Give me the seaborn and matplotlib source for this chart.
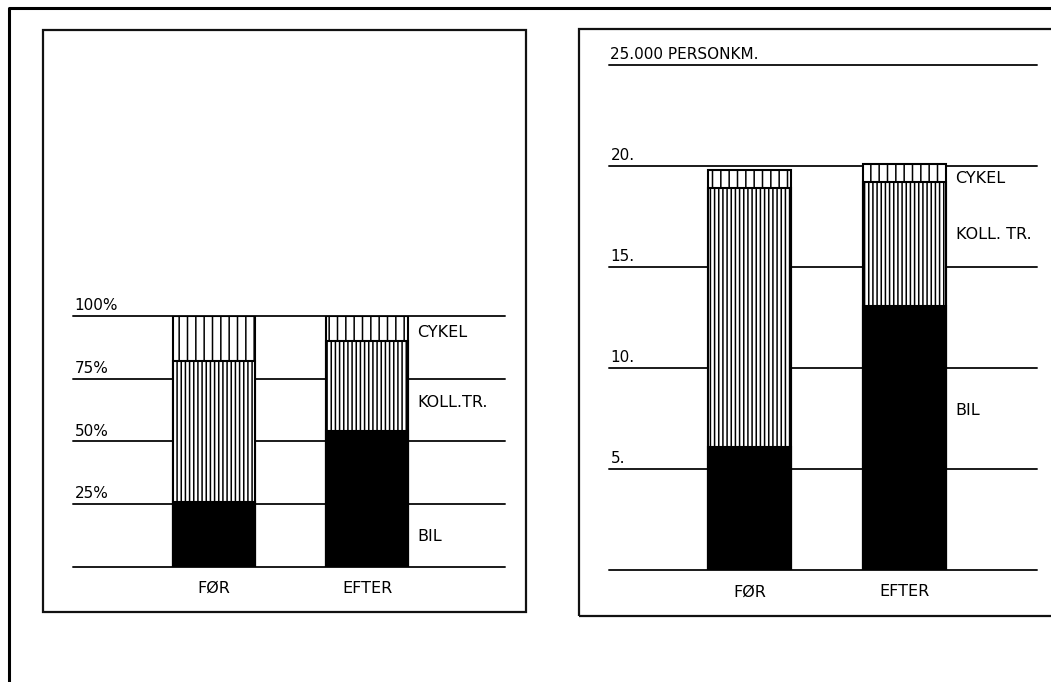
import matplotlib
matplotlib.use('Agg')
import matplotlib.pyplot as plt
import pandas as pd
import seaborn as sns
from matplotlib.lines import Line2D
from matplotlib.patches import Rectangle

# data
categories = ["FØR", "EFTER"]

pct_bil = [26, 54]
pct_koll = [56, 36]
pct_cykel = [18, 10]
pct_ticks = [0, 25, 50, 75, 100]
pct_ticklabels = ["", "25%", "50%", "75%", "100%"]
pct_modes = ["BIL", "KOLL.TR.", "CYKEL"]

km_bil = [6.1, 13.1]
km_koll = [12.8, 6.1]
km_cykel = [0.9, 0.9]
km_ticks = [0, 5, 10, 15, 20, 25]
km_ticklabels = ["", "5.", "10.", "15.", "20.", "25.000 PERSONKM."]
km_modes = ["BIL", "KOLL. TR.", "CYKEL"]

sns.set_style("white")
plt.rcParams['font.family'] = ['DejaVu Sans']
plt.rcParams['text.color'] = 'black'
plt.rcParams['xtick.color'] = 'black'
plt.rcParams['hatch.linewidth'] = 1.1

W, H = 1051, 682
fig = plt.figure(figsize=(W / 100, H / 100), dpi=100)


def px_rect(x0, y_top, x1, y_bot):
    # pixel box -> figure fraction rect
    return [x0 / W, (H - y_bot) / H, (x1 - x0) / W, (y_bot - y_top) / H]


def draw_panel(ax, bil, koll, cykel, ticks, ticklabels, modes, ymax, xlim, mode_y, mode_x):
    df = pd.DataFrame({"cat": categories, "bil": bil, "koll": koll, "cykel": cykel})
    df["lvl2"] = df["bil"] + df["koll"]
    df["lvl3"] = df["lvl2"] + df["cykel"]

    for t in ticks:
        ax.axhline(t, color="#1a1a1a", lw=1.4, zorder=0, clip_on=False)

    # stacked bars by overlaying cumulative totals
    sns.barplot(data=df, x="cat", y="lvl3", order=categories, color="white", saturation=1,
                edgecolor="black", linewidth=1.5, width=0.536, hatch="||", errorbar=None,
                ax=ax, zorder=2)
    sns.barplot(data=df, x="cat", y="lvl2", order=categories, color="white", saturation=1,
                edgecolor="black", linewidth=1.5, width=0.536, hatch="||||", errorbar=None,
                ax=ax, zorder=3)
    sns.barplot(data=df, x="cat", y="bil", order=categories, color="black", saturation=1,
                edgecolor="black", linewidth=1.5, width=0.536, errorbar=None,
                ax=ax, zorder=4)

    ax.set_ylim(0, ymax)
    ax.set_xlim(*xlim)
    for s in ax.spines.values():
        s.set_visible(False)
    ax.set_yticks([])
    ax.set_xlabel("")
    ax.set_ylabel("")
    ax.tick_params(axis="x", length=0, pad=10, labelsize=11.5)

    for t, lab in zip(ticks, ticklabels):
        if lab:
            ax.annotate(lab, xy=(xlim[0], t), xytext=(1, 2), textcoords="offset points",
                        ha="left", va="bottom", fontsize=11, annotation_clip=False)

    for m, y in zip(modes, mode_y):
        ax.text(mode_x, y, m, ha="left", va="center", fontsize=11.5, clip_on=False)


# left panel: percentages
axL = fig.add_axes(px_rect(73, 316, 505, 566.7))
draw_panel(axL, pct_bil, pct_koll, pct_cykel, pct_ticks, pct_ticklabels, pct_modes, 100,
           (-0.922, 1.902), [12, 65.5, 93.5], 1.33)

# right panel: personkm
axR = fig.add_axes(px_rect(609, 65, 1037, 570.3))
draw_panel(axR, km_bil, km_koll, km_cykel, km_ticks, km_ticklabels, km_modes, 25,
           (-0.906, 1.855), [7.9, 16.6, 19.4], 1.33)

# panel boxes and outer frame
fig.patches.append(Rectangle((43 / W, (H - 612) / H), (526 - 43) / W, (612 - 30) / H,
                             transform=fig.transFigure, fill=False, lw=1.6, ec="#111111"))
fig.patches.append(Rectangle((579 / W, (H - 616) / H), (1060 - 579) / W, (616 - 29) / H,
                             transform=fig.transFigure, fill=False, lw=1.6, ec="#111111",
                             clip_on=False))
fig.lines.append(Line2D([9 / W, 9 / W, 1.01], [-0.01, (H - 8) / H, (H - 8) / H],
                        transform=fig.transFigure, color="black", lw=2.2))

fig.savefig("out.png", dpi=100)
